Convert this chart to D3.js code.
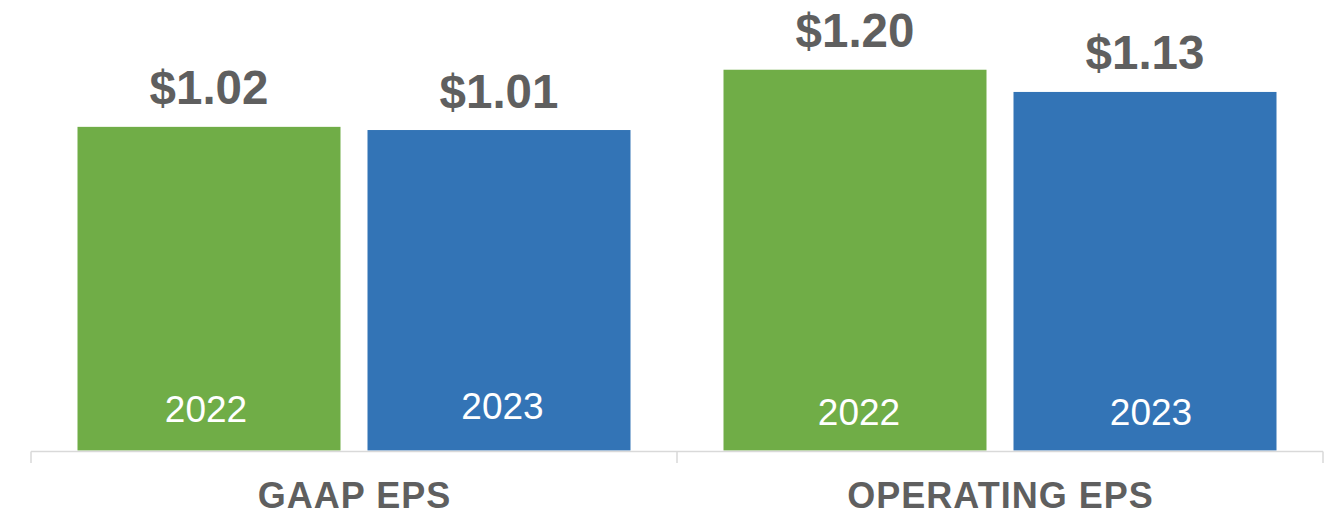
<!DOCTYPE html>
<html>
<head>
<meta charset="utf-8">
<script src="https://cdn.jsdelivr.net/npm/d3@7"></script>
<style>
  html, body { margin: 0; padding: 0; background: #ffffff; }
  svg { display: block; font-family: "Liberation Sans", Arial, Helvetica, sans-serif; }
</style>
</head>
<body>
<svg id="chart" width="1326" height="515"></svg>
<script>
// ---- data ----
const categories = ["GAAP EPS", "OPERATING EPS"];
const years = ["2022", "2023"];
const values2022 = [1.02, 1.20];
const values2023 = [1.01, 1.13];
const valueLabels2022 = ["$1.02", "$1.20"];
const valueLabels2023 = ["$1.01", "$1.13"];

// ---- styles ----
const colors = { "2022": "#70AD47", "2023": "#3374B6" };
const textGray = "#5F5F5F";
const axisGray = "#D9D9D9";
// small per-bar nudges of the in-bar year labels (px, from reference)
const yearLabelNudgeY = [[1, -2], [4, 4]];
const yearLabelNudgeX = [[-3, 3.5], [4, 6]];

const svg = d3.select("#chart");

const baseY = 450.5;
const y = d3.scaleLinear().domain([0, 1.4]).range([baseY, baseY - 1.4 * 317.3]);

const x0 = d3.scaleBand().domain(categories).range([31, 1323]).paddingInner(0).paddingOuter(0);
const x1 = d3.scaleBand().domain(years).range([0, x0.bandwidth()])
  .paddingInner(27 / 290).paddingOuter(46.5 / 290);

const rows = [];
categories.forEach((c, i) => {
  rows.push({ cat: c, ci: i, year: "2022", yi: 0, value: values2022[i], label: valueLabels2022[i] });
  rows.push({ cat: c, ci: i, year: "2023", yi: 1, value: values2023[i], label: valueLabels2023[i] });
});

// bars
svg.append("g").selectAll("rect").data(rows).join("rect")
  .attr("x", d => x0(d.cat) + x1(d.year))
  .attr("y", d => y(d.value))
  .attr("width", x1.bandwidth())
  .attr("height", d => y(0) - y(d.value))
  .attr("fill", d => colors[d.year]);

// value labels above bars
svg.append("g").selectAll("text").data(rows).join("text")
  .attr("x", d => x0(d.cat) + x1(d.year) + x1.bandwidth() / 2)
  .attr("y", d => y(d.value) - 22.5)
  .attr("text-anchor", "middle")
  .attr("font-size", 47.5)
  .attr("font-weight", "bold")
  .attr("fill", textGray)
  .text(d => d.label);

// year labels inside bars
svg.append("g").selectAll("text").data(rows).join("text")
  .attr("x", d => x0(d.cat) + x1(d.year) + x1.bandwidth() / 2 + yearLabelNudgeX[d.ci][d.yi])
  .attr("y", d => y(0) - 29.5 + yearLabelNudgeY[d.ci][d.yi])
  .attr("text-anchor", "middle")
  .attr("font-size", 37)
  .attr("fill", "#ffffff")
  .text(d => d.year);

// category axis
const axis = d3.axisBottom(x0).tickSize(0).tickFormat("");
const gAxis = svg.append("g").attr("transform", `translate(0,${baseY + 1})`).call(axis);
gAxis.select(".domain").remove();
gAxis.selectAll(".tick").remove();
gAxis.append("line")
  .attr("x1", x0.range()[0]).attr("x2", x0.range()[1])
  .attr("y1", 0).attr("y2", 0)
  .attr("stroke", axisGray).attr("stroke-width", 1.5);
const boundaries = categories.map(c => x0(c)).concat([x0.range()[1]]);
gAxis.selectAll("line.sep").data(boundaries).join("line")
  .attr("class", "sep")
  .attr("x1", d => d).attr("x2", d => d)
  .attr("y1", 0).attr("y2", 11.5)
  .attr("stroke", axisGray).attr("stroke-width", 1.5);

// category labels
svg.append("g").selectAll("text").data(categories).join("text")
  .attr("x", d => x0(d) + x0.bandwidth() / 2 + 0.5)
  .attr("y", 507.5)
  .attr("text-anchor", "middle")
  .attr("font-size", 36)
  .attr("font-weight", "bold")
  .attr("letter-spacing", 1)
  .attr("fill", textGray)
  .text(d => d);
</script>
</body>
</html>
